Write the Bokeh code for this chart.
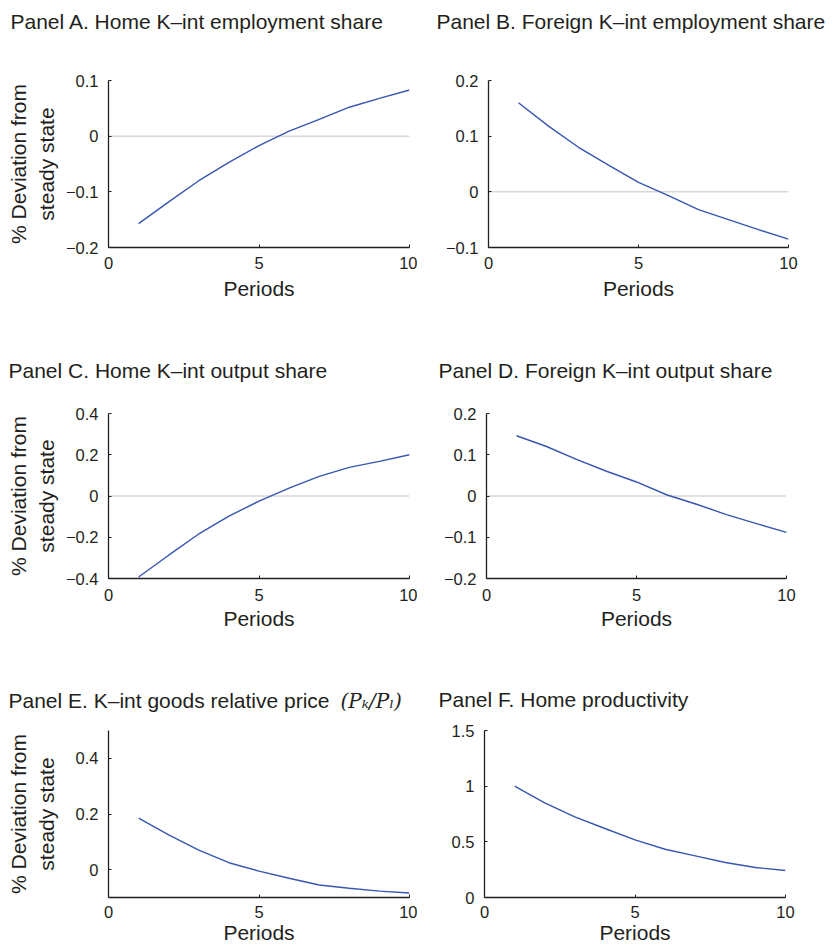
from bokeh.plotting import figure
from bokeh.layouts import column, row
from bokeh.models import Range1d, FixedTicker, Span, Label
from bokeh.embed import file_html
from bokeh.resources import INLINE

# ---------------- data ----------------
periods = [1, 2, 3, 4, 5, 6, 7, 8, 9, 10]

home_kint_employment = [-0.157, -0.118, -0.080, -0.047, -0.017, 0.009, 0.030, 0.052, 0.068, 0.083]
foreign_kint_employment = [0.160, 0.118, 0.080, 0.048, 0.017, -0.007, -0.032, -0.050, -0.068, -0.085]
home_kint_output = [-0.393, -0.287, -0.184, -0.098, -0.025, 0.038, 0.095, 0.139, 0.168, 0.200]
foreign_kint_output = [0.146, 0.120, 0.089, 0.060, 0.034, 0.003, -0.020, -0.045, -0.067, -0.088]
kint_relative_price = [0.185, 0.125, 0.070, 0.025, -0.005, -0.031, -0.055, -0.067, -0.077, -0.084]
home_productivity = [1.000, 0.850, 0.725, 0.620, 0.517, 0.433, 0.374, 0.314, 0.270, 0.242]

x_ticks = [0, 5, 10]
x_tick_labels = ["0", "5", "10"]

a_ticks = [-0.2, -0.1, 0, 0.1]
a_tick_labels = ["\u22120.2", "\u22120.1", "0", "0.1"]
b_ticks = [-0.1, 0, 0.1, 0.2]
b_tick_labels = ["\u22120.1", "0", "0.1", "0.2"]
c_ticks = [-0.4, -0.2, 0, 0.2, 0.4]
c_tick_labels = ["\u22120.4", "\u22120.2", "0", "0.2", "0.4"]
d_ticks = [-0.2, -0.1, 0, 0.1, 0.2]
d_tick_labels = ["\u22120.2", "\u22120.1", "0", "0.1", "0.2"]
e_ticks = [0, 0.2, 0.4]
e_tick_labels = ["0", "0.2", "0.4"]
f_ticks = [0, 0.5, 1, 1.5]
f_tick_labels = ["0", "0.5", "1", "1.5"]

titles = [
    "Panel A. Home K\u2013int employment share",
    "Panel B. Foreign K\u2013int employment share",
    "Panel C. Home K\u2013int output share",
    "Panel D. Foreign K\u2013int output share",
    "Panel E. K\u2013int goods relative price",
    "Panel F. Home productivity",
]
title_e_math = "(P\u2096/P\u2097)"
x_label = "Periods"
y_label = "% Deviation from\nsteady state"

# ---------------- style ----------------
FONT = "Liberation Sans"
INK = "#231F20"
BLUE = "#3656B0"
ZERO = "#C4C4C4"
COL_W = 417


def title_strip(text, h, tx, ty, extra=None):
    s = figure(width=COL_W, height=h, x_range=Range1d(0, COL_W), y_range=Range1d(0, h),
               output_backend="svg", toolbar_location=None, min_border=0,
               x_axis_location=None, y_axis_location=None)
    s.outline_line_color = None
    s.grid.visible = False
    s.add_layout(Label(x=tx, y=ty, text=text, text_font=FONT, text_font_size="21px",
                       text_color=INK, text_baseline="alphabetic", text_align="left"))
    if extra is not None:
        ex, etext = extra
        s.add_layout(Label(x=ex, y=ty, text=etext, text_font="DejaVu Serif",
                           text_font_style="italic", text_font_size="20px",
                           text_color=INK, text_baseline="alphabetic", text_align="left"))
    return s


def make_panel(values, yr, ticks, tick_labels, zero, left_col,
               h, bl, br, bt, bb, ylab_standoff=5,
               xlab_standoff=9, xlab_axis_standoff=5):
    p = figure(width=COL_W, height=h, x_range=Range1d(0, 10), y_range=Range1d(*yr),
               output_backend="svg", toolbar_location=None,
               min_border_left=bl, min_border_right=br,
               min_border_top=bt, min_border_bottom=bb)
    p.outline_line_color = None
    p.grid.visible = False

    xa = p.xaxis[0]
    ya = p.yaxis[0]
    xa.ticker = FixedTicker(ticks=x_ticks)
    xa.major_label_overrides = dict(zip(x_ticks, x_tick_labels))
    ya.ticker = FixedTicker(ticks=ticks)
    ya.major_label_overrides = dict(zip(ticks, tick_labels))
    for ax in (xa, ya):
        ax.axis_line_color = INK
        ax.axis_line_width = 1.3
        ax.major_tick_line_color = INK
        ax.major_tick_line_width = 1
        ax.major_tick_in = 3
        ax.major_tick_out = 0
        ax.minor_tick_line_color = None
        ax.major_label_text_font = FONT
        ax.major_label_text_font_size = "16.5px"
        ax.major_label_text_color = INK
        ax.axis_label_text_font = FONT
        ax.axis_label_text_font_size = "21px"
        ax.axis_label_text_font_style = "normal"
        ax.axis_label_text_color = INK
    xa.axis_label = x_label
    xa.major_label_standoff = xlab_standoff
    xa.axis_label_standoff = xlab_axis_standoff
    ya.major_label_standoff = 10
    if left_col:
        ya.axis_label = y_label
        ya.axis_label_standoff = ylab_standoff

    if zero:
        p.add_layout(Span(location=0, dimension="width", line_color=ZERO,
                          line_width=1, level="underlay"))

    p.line(periods, values, line_color=BLUE, line_width=1.4)
    return p


# row 1
ta = title_strip(titles[0], 40, 10, 19)
tb = title_strip(titles[1], 40, 19, 19)
pa = make_panel(home_kint_employment, (-0.2, 0.1), a_ticks, a_tick_labels, True, True,
                300, 108, 8, 40, 93)
pb = make_panel(foreign_kint_employment, (-0.1, 0.2), b_ticks, b_tick_labels, True, False,
                300, 71, 46, 40, 93)
# row 2
tc = title_strip(titles[2], 50, 8, 20)
td = title_strip(titles[3], 50, 21, 20)
pc = make_panel(home_kint_output, (-0.4, 0.4), c_ticks, c_tick_labels, True, True,
                270, 108, 8, 23, 82, xlab_standoff=10, xlab_axis_standoff=3)
pd = make_panel(foreign_kint_output, (-0.2, 0.2), d_ticks, d_tick_labels, True, False,
                270, 69, 48, 23, 82, xlab_standoff=10, xlab_axis_standoff=3)
# row 3
te = title_strip(titles[4], 56, 8, 16, extra=(340, title_e_math))
tf = title_strip(titles[5], 56, 21, 17)
pe = make_panel(kint_relative_price, (-0.1, 0.5), e_ticks, e_tick_labels, False, True,
                231, 108, 8, 14, 50, ylab_standoff=15,
                xlab_standoff=8, xlab_axis_standoff=0)
pf = make_panel(home_productivity, (0, 1.5), f_ticks, f_tick_labels, False, False,
                231, 67, 49, 14, 50, xlab_standoff=8, xlab_axis_standoff=0)

layout = column(row(ta, tb), row(pa, pb),
                row(tc, td), row(pc, pd),
                row(te, tf), row(pe, pf))

open("out.html", "w").write(file_html(layout, INLINE))
